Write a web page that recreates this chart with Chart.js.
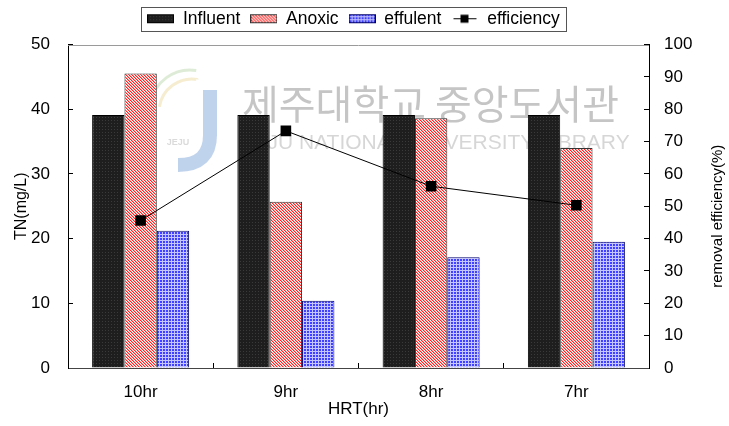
<!DOCTYPE html>
<html>
<head>
<meta charset="utf-8">
<script src="https://cdn.jsdelivr.net/npm/chart.js@4/dist/chart.umd.min.js"></script>
<style>
  html, body { margin: 0; padding: 0; background: #fff; }
  #wrap { width: 729px; height: 426px; }
</style>
</head>
<body>
<div id="wrap"><canvas id="c" width="729" height="426"></canvas></div>
<script>
// HRT conditions and measured total nitrogen (mg/L)
const categories = ['10hr', '9hr', '8hr', '7hr'];
const influent   = [39.1, 39.1, 39.1, 39.1];
const anoxic     = [45.5, 25.7, 38.6, 34.0];
const effulent   = [21.2, 10.4, 17.1, 19.5];
// TN removal efficiency (%)
const efficiency = [45.6, 73.3, 56.2, 50.3];

const FONT = "'Liberation Sans', Arial, sans-serif";

// small tiled fills for the bars
function tile(w, h, draw) {
  const c = document.createElement('canvas');
  c.width = w; c.height = h;
  draw(c.getContext('2d'));
  return c;
}
const darkTile = tile(3, 3, g => {
  g.fillStyle = '#1e1e1e'; g.fillRect(0, 0, 3, 3);
  g.fillStyle = '#3a3a3a'; g.fillRect(0, 0, 1, 1);
});
const redTile = tile(3, 3, g => {
  const shades = ['#ff2020', '#ff9c9c', '#ffffff'];
  for (let y = 0; y < 3; y++) for (let x = 0; x < 3; x++) {
    g.fillStyle = shades[((x - y) % 3 + 3) % 3];
    g.fillRect(x, y, 1, 1);
  }
});
const blueTile = tile(3, 3, g => {
  g.fillStyle = '#4040ff'; g.fillRect(0, 0, 3, 3);
  g.fillStyle = '#c4c4ff'; g.fillRect(0, 0, 3, 1); g.fillRect(0, 0, 1, 3);
});
const pctx = document.createElement('canvas').getContext('2d');
const darkFill = pctx.createPattern(darkTile, 'repeat');
const redFill  = pctx.createPattern(redTile, 'repeat');
const blueFill = pctx.createPattern(blueTile, 'repeat');

// legend swatches
function barSwatch(t, border) {
  return tile(27, 11, g => {
    g.fillStyle = g.createPattern(t, 'repeat'); g.fillRect(0, 1, 27, 9);
    g.strokeStyle = border; g.lineWidth = 1; g.strokeRect(0.5, 1.5, 26, 8);
  });
}
const lineSwatch = tile(27, 11, g => {
  g.strokeStyle = '#000'; g.lineWidth = 1;
  g.beginPath(); g.moveTo(2, 5.5); g.lineTo(25, 5.5); g.stroke();
  g.fillStyle = '#000'; g.fillRect(9, 1.5, 8, 8);
});
const swatches = [barSwatch(darkTile, '#000'), barSwatch(redTile, '#333'), barSwatch(blueTile, '#00006a'), lineSwatch];

Chart.defaults.color = '#000';
Chart.defaults.font.family = FONT;

// faint library mark behind the bars
const watermark = {
  id: 'watermark',
  beforeDatasetsDraw(chart) {
    const g = chart.ctx;
    g.save();
    // logo
    g.strokeStyle = 'rgba(140,175,220,0.55)';
    g.lineWidth = 14; g.lineCap = 'butt';
    g.beginPath(); g.moveTo(210, 90); g.lineTo(210, 135);
    g.quadraticCurveTo(210, 165, 178, 165); g.stroke();
    g.strokeStyle = 'rgba(160,200,140,0.35)'; g.lineWidth = 3;
    g.beginPath(); g.arc(190, 110, 40, Math.PI * 1.05, Math.PI * 1.55); g.stroke();
    g.strokeStyle = 'rgba(230,200,120,0.35)';
    g.beginPath(); g.arc(192, 112, 33, Math.PI * 1.05, Math.PI * 1.55); g.stroke();
    g.fillStyle = 'rgba(150,150,150,0.35)';
    g.font = "bold 9px " + FONT; g.textAlign = 'center'; g.textBaseline = 'middle';
    g.fillText('JEJU', 178, 143);
    // name
    g.fillStyle = 'rgba(110,110,110,0.4)';
    g.font = "40px 'Noto Sans CJK KR'";
    g.textAlign = 'left'; g.textBaseline = 'alphabetic';
    g.fillText('제주대학교 중앙도서관', 242, 119);
    g.fillStyle = 'rgba(120,120,120,0.3)';
    g.font = "21px " + FONT;
    g.fillText('JEJU NATIONAL UNIVERSITY LIBRARY', 243, 149);
    g.restore();
  }
};

// frame line on top of the plot, box around the legend, right axis title
const frame = {
  id: 'frame',
  afterDraw(chart) {
    const g = chart.ctx, a = chart.chartArea;
    g.save();
    g.strokeStyle = '#9a9a9a'; g.lineWidth = 1;
    g.beginPath(); g.moveTo(a.left, Math.round(a.top) + 0.5); g.lineTo(a.right, Math.round(a.top) + 0.5); g.stroke();
    const hb = chart.legend.legendHitBoxes;
    if (hb && hb.length) {
      const l = Math.round(hb[0].left - 6) + 0.5;
      const last = hb[hb.length - 1];
      const r = Math.round(last.left + last.width + 6) + 0.5;
      g.strokeStyle = '#555';
      g.strokeRect(l, 7.5, r - l, 24);
    }
    // title of the right axis, reading bottom to top
    g.translate(718, (a.top + a.bottom) / 2 + 10);
    g.rotate(-Math.PI / 2);
    g.fillStyle = '#000';
    g.font = "15px " + FONT;
    g.textAlign = 'center'; g.textBaseline = 'middle';
    g.fillText('removal efficiency(%)', 0, 0);
    g.restore();
  }
};

new Chart(document.getElementById('c'), {
  data: {
    labels: categories,
    datasets: [
      { type: 'bar', label: 'Influent', data: influent, xAxisID: 'x', yAxisID: 'y',
        backgroundColor: darkFill, borderColor: '#000', borderWidth: 1, order: 2 },
      { type: 'bar', label: 'Anoxic', data: anoxic, xAxisID: 'x', yAxisID: 'y',
        backgroundColor: redFill, borderColor: '#333', borderWidth: 1, order: 2 },
      { type: 'bar', label: 'effulent', data: effulent, xAxisID: 'x', yAxisID: 'y',
        backgroundColor: blueFill, borderColor: '#00006a', borderWidth: 1, order: 2 },
      { type: 'line', label: 'efficiency', data: efficiency, xAxisID: 'x', yAxisID: 'y1',
        borderColor: '#000', borderWidth: 1, backgroundColor: '#000',
        pointStyle: 'rect', pointRadius: 7.5, pointBorderWidth: 0, tension: 0, order: 1 }
    ]
  },
  options: {
    responsive: false,
    animation: false,
    layout: { padding: { left: 0, right: 22, top: 0, bottom: 0 } },
    datasets: { bar: { categoryPercentage: 0.668, barPercentage: 1.0 } },
    plugins: {
      tooltip: { enabled: false },
      legend: {
        position: 'top',
        labels: {
          usePointStyle: true, pointStyleWidth: 27, padding: 10,
          font: { size: 17.5 }, color: '#000',
          generateLabels: chart => chart.data.datasets.map((ds, i) => ({
            text: ds.label, pointStyle: swatches[i], datasetIndex: i,
            hidden: false, lineWidth: 0, strokeStyle: 'rgba(0,0,0,0)',
            fillStyle: 'rgba(0,0,0,0)', fontColor: '#000'
          }))
        }
      }
    },
    scales: {
      x: {
        position: 'bottom',
        offset: true,
        grid: { offset: true, drawOnChartArea: false, drawTicks: true, tickLength: -5, color: '#000' },
        border: { color: '#444', width: 1 },
        ticks: { font: { size: 17 }, padding: 19, color: '#000' },
        title: { display: true, text: 'HRT(hr)', font: { size: 17 }, padding: { top: 0, bottom: 6 }, color: '#000' },
        afterFit: s => { s.height = 58; }
      },
      y: {
        position: 'left', min: 0, max: 50,
        grid: { drawOnChartArea: false, drawTicks: true, tickLength: -5, color: '#000' },
        border: { color: '#000', width: 1 },
        ticks: { stepSize: 10, font: { size: 17 }, padding: 23, color: '#000' },
        title: { display: true, text: 'TN(mg/L)', font: { size: 16 }, padding: { top: 12, bottom: 0 }, color: '#000' },
        afterFit: s => { s.width = 68; }
      },
      y1: {
        position: 'right', min: 0, max: 100,
        grid: { drawOnChartArea: false, drawTicks: true, tickLength: -5, color: '#000' },
        border: { color: '#000', width: 1 },
        ticks: { stepSize: 10, font: { size: 17 }, padding: 20, color: '#000' },
        title: { display: false },
        afterFit: s => { s.width = 58; }
      },
      // empty band between the legend and the plot
      gap: {
        type: 'linear', position: 'top', display: true,
        grid: { display: false }, border: { display: false }, ticks: { display: false },
        afterFit: s => { s.height = 7; }
      }
    }
  },
  plugins: [watermark, frame]
});
</script>
</body>
</html>
